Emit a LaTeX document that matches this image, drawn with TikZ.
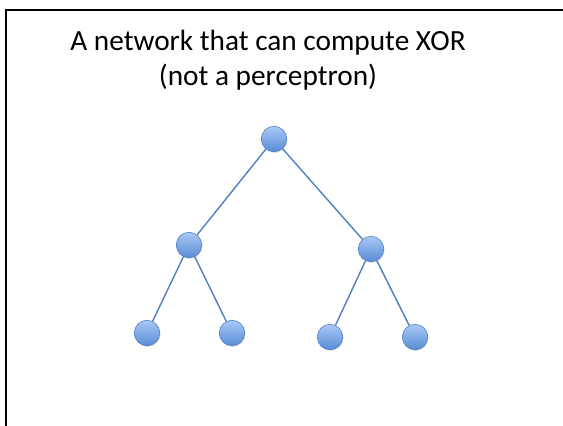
\documentclass[tikz,border=0pt]{standalone}
\usepackage{fontspec}
\setmainfont{Carlito}
\usetikzlibrary{shadows}
\definecolor{edgeblue}{RGB}{79,129,189}
\definecolor{topblue}{RGB}{170,200,245}
\definecolor{botblue}{RGB}{88,140,214}
\definecolor{rimblue}{RGB}{80,128,195}
\tikzset{
  neuron/.style={circle, minimum size=25.5pt, inner sep=0pt, draw=rimblue, line width=0.6pt,
    top color=topblue, bottom color=botblue, drop shadow={shadow xshift=0.8pt, shadow yshift=-1.2pt, opacity=0.25}},
  link/.style={draw=edgeblue, line width=1.4pt},
  frame/.style={line width=2.2pt, black},
  title/.style={font=\fontsize{29.3}{35}\selectfont, align=center, text=black}
}
\begin{document}
\begin{tikzpicture}[x=1pt,y=-1pt]
\useasboundingbox (0,0) rectangle (563,426);
\draw[frame] (6,430) -- (6,10) -- (570,10);
\node[title] (t) at (268,60) {A network that can compute XOR\\(not a perceptron)};
\node[neuron] (r) at (274,139) {};
\node[neuron] (m1) at (189,245) {};
\node[neuron] (m2) at (371,249) {};
\node[neuron] (b1) at (147,333) {};
\node[neuron] (b2) at (232,333) {};
\node[neuron] (b3) at (330,337) {};
\node[neuron] (b4) at (415,337) {};
\draw[link] (r) -- (m1);
\draw[link] (r) -- (m2);
\draw[link] (m1) -- (b1);
\draw[link] (m1) -- (b2);
\draw[link] (m2) -- (b3);
\draw[link] (m2) -- (b4);
\end{tikzpicture}
\end{document}
